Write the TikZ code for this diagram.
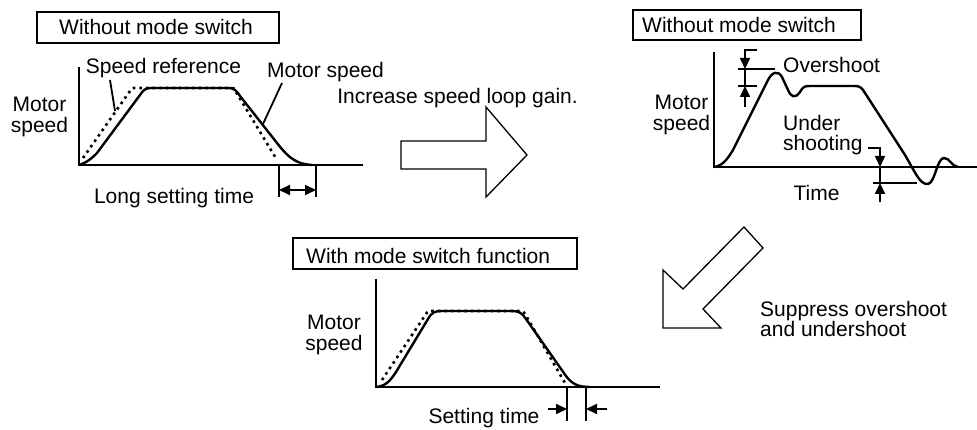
\documentclass[tikz,border=0pt]{standalone}
\usepackage{fontspec}
\setmainfont{Liberation Sans}
\usetikzlibrary{arrows.meta}
\tikzset{
  txt/.style={font=\fontsize{21}{21}\selectfont, inner sep=0pt, align=center},
  ltxt/.style={font=\fontsize{21}{20}\selectfont, inner sep=0pt, align=left, anchor=west},
  axisline/.style={line width=2.6pt, line join=miter},
  mcurve/.style={line width=2.4pt, line join=round},
  refcurve/.style={line width=2.6pt, dash pattern=on 2.6pt off 4pt},
  frame/.style={draw, line width=1.3pt},
  blockarrow/.style={draw, line width=1.3pt, line join=miter},
  dimline/.style={line width=1.8pt},
  dimtip/.style={-{Triangle[length=11pt,width=10pt]}},
  dimtips/.style={{Triangle[length=11pt,width=10pt]}-{Triangle[length=11pt,width=10pt]}},
  leader/.style={line width=1.8pt}
}
\begin{document}
\begin{tikzpicture}[x=1pt,y=-1pt]
\useasboundingbox (0,0) rectangle (977,430);

% ---------- Panel 1 ----------
\draw[frame] (37,12) rectangle (279,43);
\node[txt,anchor=west] (t1) at (59,27) {Without mode switch};
\draw[axisline] (79,67) -- (79,165) -- (363,165);
\draw[refcurve] (83,158) -- (130,91) .. controls (132,88) .. (136,88) -- (230,88)
  .. controls (234,88) .. (236,92) -- (277,160);
\draw[mcurve] (79,165) .. controls (88,162) and (92,158) .. (97,153) -- (140,95)
  .. controls (144,89) and (146,88) .. (152,88) -- (228,88)
  .. controls (234,88) and (236,90) .. (240,96) -- (277,143)
  .. controls (290,160) and (298,164) .. (312,165);
\node[txt] (sref) at (163.5,68) {Speed reference};
\coordinate (srA) at (110,80);
\coordinate (srB) at (115,111);
\draw[leader] (srA) -- (srB);
\node[txt] (mspd) at (325.5,72) {Motor speed};
\coordinate (msA) at (282,83);
\coordinate (msB) at (263,124);
\draw[leader] (msA) -- (msB);
\node[txt] (y1) at (39.5,117) {Motor\\speed};
\node[txt] (lst) at (174,198) {Long setting time};
\coordinate (d1a) at (279,165);
\coordinate (d1b) at (279,197);
\coordinate (d1c) at (316,165);
\coordinate (d1d) at (316,197);
\draw[dimline] (d1a) -- (d1b);
\draw[dimline] (d1c) -- (d1d);
\coordinate (d1e) at (279,190);
\coordinate (d1f) at (316,190);
\draw[dimline,dimtips] (d1e) -- (d1f);

% ---------- Block arrow right ----------
\node[txt] (inc) at (457.5,98) {Increase speed loop gain.};
\draw[blockarrow] (401,141) -- (486,141) -- (486,107) -- (527,155) -- (486,197)
  -- (486,169) -- (401,169) -- cycle;

% ---------- Panel 2 ----------
\draw[frame] (633,10) rectangle (861,40);
\node[txt,anchor=west] (t2) at (642,25) {Without mode switch};
\draw[axisline] (714,52) -- (714,167) -- (977,167);
\draw[mcurve] (714,167) .. controls (722,166) and (727,160) .. (733,150) -- (768,80)
  .. controls (772,72) and (778,70) .. (782,77) -- (788,90)
  .. controls (791,97) and (795,99) .. (800,92)
  .. controls (803,87) and (804,86) .. (810,86) -- (855,86)
  .. controls (860,86) and (862,88) .. (865,93) -- (905,155)
  .. controls (915,172) and (920,185) .. (928,184)
  .. controls (935,183) and (937,158) .. (944,158)
  .. controls (950,158) and (951,166) .. (958,167);
\node[txt] (y2) at (681.5,115) {Motor\\speed};
\node[ltxt] (ovs) at (783,65) {Overshoot};
\node[ltxt] (und) at (783,135) {Under\\shooting};
\node[txt] (tim) at (816.5,193) {Time};
% overshoot dimension
\coordinate (o1) at (757,50);
\coordinate (o2) at (745,50);
\coordinate (o3) at (745,69);
\coordinate (o4) at (745,107);
\coordinate (o5) at (745,86);
\draw[dimline] (738,69) -- (775,69);
\draw[dimline] (738,86) -- (757,86);
\draw[dimline] (o3) -- (o5);
\draw[dimline,dimtip] (o1) -- (o2) -- (o3);
\draw[dimline,dimtip] (o4) -- (o5);
% undershoot dimension
\coordinate (u1) at (868,148);
\coordinate (u2) at (880,148);
\coordinate (u3) at (880,167);
\coordinate (u4) at (880,202);
\coordinate (u5) at (880,183);
\draw[dimline] (873,183) -- (917,183);
\draw[dimline] (u3) -- (u5);
\draw[dimline,dimtip] (u1) -- (u2) -- (u3);
\draw[dimline,dimtip] (u4) -- (u5);

% ---------- Diagonal block arrow ----------
\draw[blockarrow] (744,227) -- (763,248) -- (703,309) -- (721,328) -- (663,328)
  -- (663,270) -- (683,289) -- cycle;
\node[ltxt] (sup) at (760,318.5) {Suppress overshoot\\and undershoot};

% ---------- Panel 3 ----------
\draw[frame] (293,238) rectangle (577,269);
\node[txt,anchor=west] (t3) at (306,256) {With mode switch function};
\draw[axisline] (376,279) -- (376,387) -- (660,387);
\draw[refcurve] (382,380) -- (426,314) .. controls (428,311) .. (432,311) -- (520,311)
  .. controls (523,311) .. (525,314) -- (565,383);
\draw[mcurve] (376,387) .. controls (386,386) and (390,381) .. (396,372) -- (428,319)
  .. controls (432,312) and (435,311) .. (442,311) -- (512,311)
  .. controls (519,311) and (522,313) .. (526,319) -- (566,376)
  .. controls (572,384) and (578,387) .. (590,387);
\node[txt] (y3) at (334,335) {Motor\\speed};
\node[txt] (stm) at (484,418) {Setting time};
\coordinate (s1) at (567,387);
\coordinate (s2) at (567,421);
\coordinate (s3) at (586,387);
\coordinate (s4) at (586,421);
\draw[dimline] (s1) -- (s2);
\draw[dimline] (s3) -- (s4);
\coordinate (s5) at (548,409);
\coordinate (s6) at (567,409);
\coordinate (s7) at (607,409);
\coordinate (s8) at (586,409);
\draw[dimline,dimtip] (s5) -- (s6);
\draw[dimline,dimtip] (s7) -- (s8);
\end{tikzpicture}
\end{document}
